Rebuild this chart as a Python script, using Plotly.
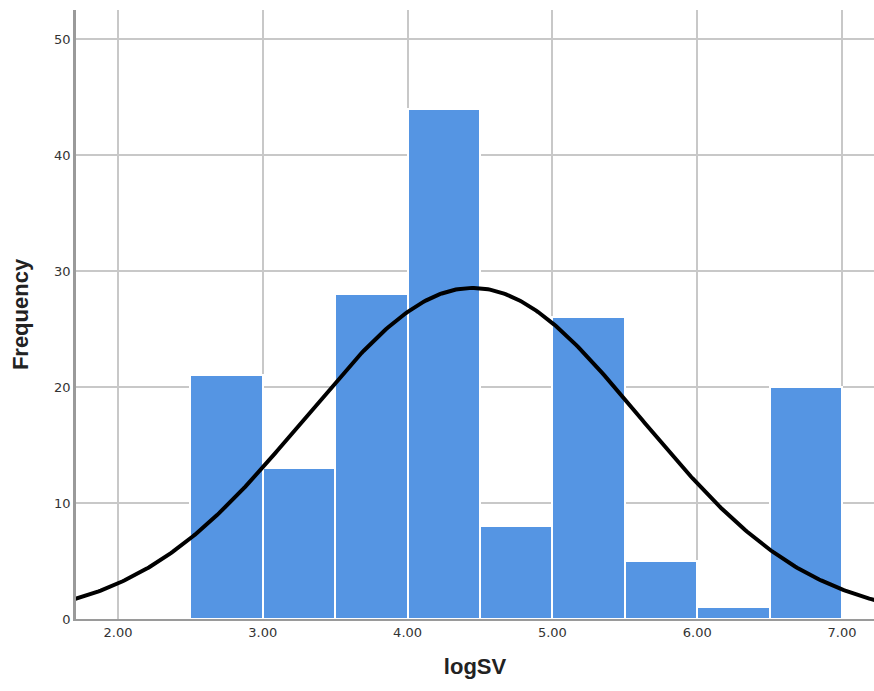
import numpy as np
import plotly.graph_objects as go

bin_starts = [2.5, 3.0, 3.5, 4.0, 4.5, 5.0, 5.5, 6.0, 6.5]
counts = [21, 13, 28, 44, 8, 26, 5, 1, 20]
bin_width = 0.5
fit_mean = 4.45
fit_sd = 1.16
x_ticks = [2, 3, 4, 5, 6, 7]
x_tick_labels = ["2.00", "3.00", "4.00", "5.00", "6.00", "7.00"]
y_ticks = [0, 10, 20, 30, 40, 50]

n_total = sum(counts)
mids = [s + bin_width / 2 for s in bin_starts]

xs = np.linspace(1.70, 7.23, 400)
ys = n_total * bin_width / (fit_sd * np.sqrt(2 * np.pi)) * np.exp(-0.5 * ((xs - fit_mean) / fit_sd) ** 2)

fig = go.Figure()
fig.add_trace(go.Bar(x=mids, y=counts, width=bin_width,
                     marker=dict(color="#5595E3", line=dict(color="white", width=2)),
                     hoverinfo="x+y"))
fig.add_trace(go.Scatter(x=xs, y=ys, mode="lines", line=dict(color="black", width=4)))

fig.update_layout(
    width=874, height=691,
    margin=dict(l=76, r=0, t=10, b=72, autoexpand=False),
    paper_bgcolor="white", plot_bgcolor="white",
    showlegend=False, bargap=0,
    font=dict(family="DejaVu Sans", size=13, color="#333333"),
)
fig.update_xaxes(range=[1.71, 7.221], tickvals=x_ticks, ticktext=x_tick_labels,
                 showgrid=True, gridcolor="#c8c8c8", gridwidth=1.5,
                 showline=True, linecolor="#9a9a9a", linewidth=2,
                 ticks="", ticklen=0, zeroline=False, automargin=False,
                 title=dict(text="<b>logSV</b>", font=dict(size=22, family="Liberation Sans", color="#222222"), standoff=20))
fig.update_yaxes(range=[0, 52.5], tickvals=y_ticks,
                 showgrid=True, gridcolor="#c8c8c8", gridwidth=1.5,
                 showline=True, linecolor="#9a9a9a", linewidth=2.5,
                 ticks="", zeroline=False, automargin=False,
                 title=dict(text="<b>Frequency</b>", font=dict(size=22, family="Liberation Sans", color="#222222"), standoff=20))

fig.write_html("out.html", config={"displayModeBar": False},
               post_script="document.body.style.margin='0px'; document.body.style.overflow='hidden';")
